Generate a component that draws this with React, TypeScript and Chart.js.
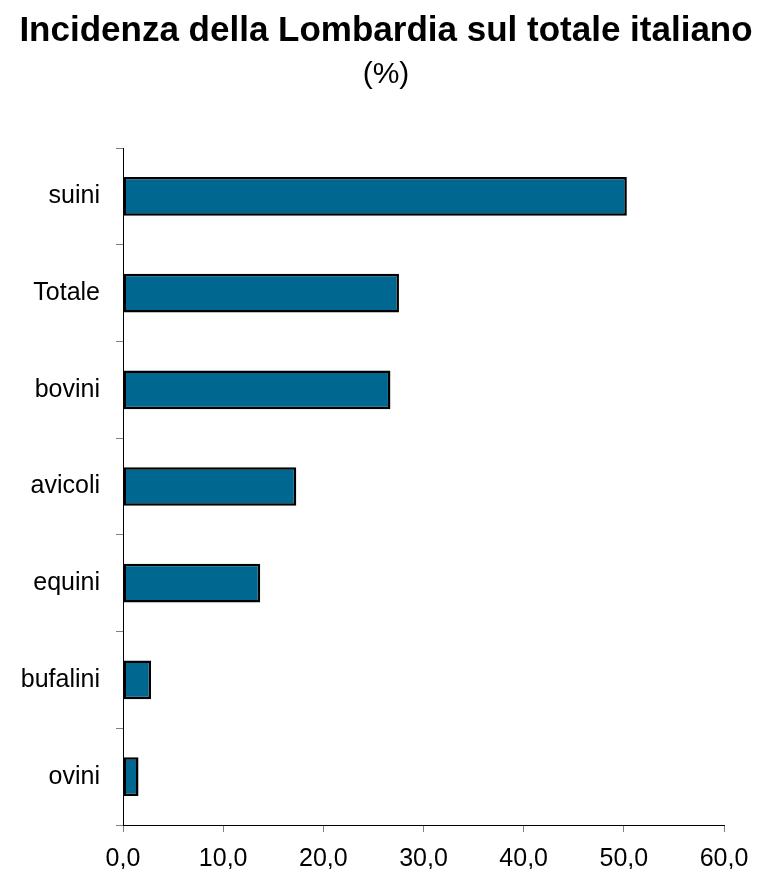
import React, { useEffect, useRef } from "react";
import { Chart, registerables } from "chart.js";

Chart.register(...registerables);

const categories = ["suini", "Totale", "bovini", "avicoli", "equini", "bufalini", "ovini"];
const values = [50.3, 27.55, 26.7, 17.3, 13.7, 2.8, 1.55];
const xTicks = [0, 10, 20, 30, 40, 50, 60];

const FONT = "Liberation Sans, Arial, Helvetica, sans-serif";

export default function App() {
  const ref = useRef<HTMLCanvasElement>(null);
  useEffect(() => {
    document.body.style.margin = "0";
    const ctx = ref.current!;
    const chart = new Chart(ctx, {
      type: "bar",
      data: {
        labels: categories,
        datasets: [
          {
            data: values,
            backgroundColor: "#006890",
            borderColor: "#000000",
            borderWidth: 2.5,
            borderSkipped: false,
            barPercentage: 0.4,
            categoryPercentage: 1,
          },
        ],
      },
      options: {
        indexAxis: "y",
        animation: false,
        responsive: false,
        maintainAspectRatio: false,
        layout: { padding: { left: 14, right: 0, top: 0, bottom: 0 } },
        plugins: {
          legend: { display: false },
          tooltip: { enabled: false },
          title: {
            display: true,
            text: "Incidenza della Lombardia sul totale italiano",
            color: "#000",
            font: { family: FONT, size: 35, weight: "bold" },
            padding: { top: 10, bottom: 0 },
          },
          subtitle: {
            display: true,
            text: "(%)",
            color: "#000",
            font: { family: FONT, size: 30, weight: "normal" },
            padding: { top: 5, bottom: 55 },
          },
        },
        scales: {
          x: {
            type: "linear",
            min: 0,
            max: 60,
            afterBuildTicks: (scale: any) => {
              scale.ticks = xTicks.map((v) => ({ value: v }));
            },
            afterFit: (scale: any) => {
              scale.height = 44;
              scale.paddingRight = 34;
            },
            ticks: {
              color: "#000",
              font: { family: FONT, size: 25 },
              callback: (v: any) => Number(v).toFixed(1).replace(".", ","),
              padding: 12,
              maxRotation: 0,
            },
            grid: {
              drawOnChartArea: false,
              drawTicks: true,
              tickLength: 7,
              color: "#808080",
            },
            border: { display: true, color: "#000", width: 1 },
          },
          y: {
            type: "category",
            offset: true,
            afterFit: (scale: any) => {
              scale.width = 109;
            },
            ticks: {
              color: "#000",
              font: { family: FONT, size: 25 },
              padding: 16,
            },
            grid: {
              drawOnChartArea: false,
              drawTicks: true,
              tickLength: 7,
              offset: true,
              color: "#808080",
            },
            border: { display: true, color: "#000", width: 1 },
          },
        },
      },
    });
    return () => chart.destroy();
  }, []);
  return (
    <div style={{ width: 758, height: 869 }}>
      <canvas ref={ref} width={758} height={869} style={{ display: "block" }} />
    </div>
  );
}
